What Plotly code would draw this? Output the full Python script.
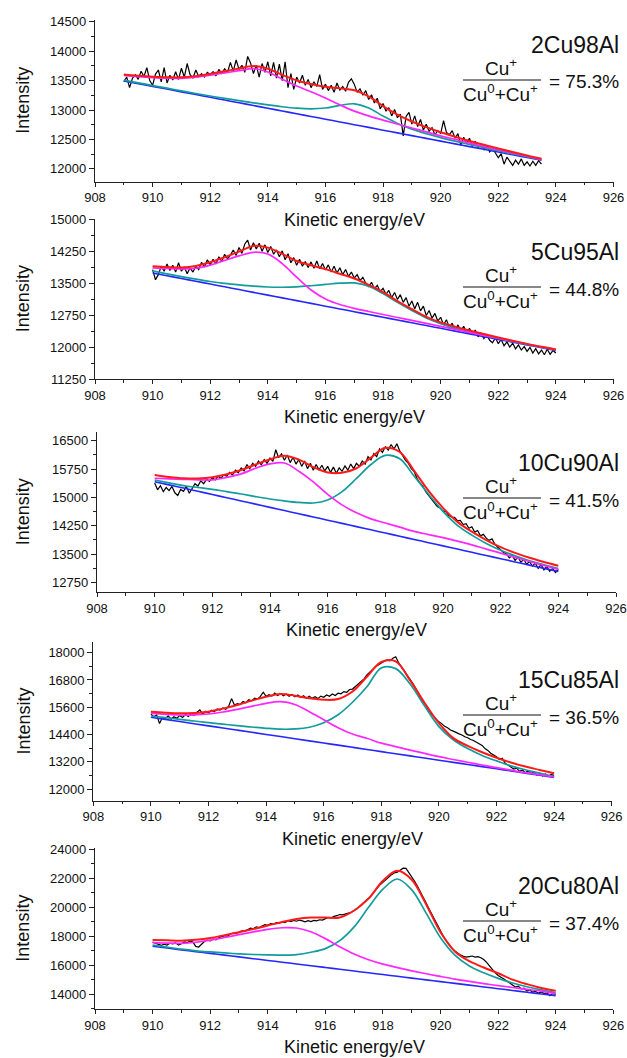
import numpy as np
import plotly.graph_objects as go

# ---------------- text ----------------
samples = ["2Cu98Al", "5Cu95Al", "10Cu90Al", "15Cu85Al", "20Cu80Al"]
ratios = ["75.3%", "44.8%", "41.5%", "36.5%", "37.4%"]
x_title = "Kinetic energy/eV"
y_title = "Intensity"
x_ticks = [908, 910, 912, 914, 916, 918, 920, 922, 924, 926]
p1_yticks = [12000, 12500, 13000, 13500, 14000, 14500]
p2_yticks = [11250, 12000, 12750, 13500, 14250, 15000]
p3_yticks = [12750, 13500, 14250, 15000, 15750, 16500]
p4_yticks = [12000, 13200, 14400, 15600, 16800, 18000]
p5_yticks = [14000, 16000, 18000, 20000, 22000, 24000]

# ---------------- panel 1 : 2Cu98Al ----------------
p1_data_start = 909.0
p1_data = [
    13480, 13560, 13380, 13540, 13600, 13520, 13660, 13570, 13720, 13500,
    13420, 13610, 13680, 13480, 13720, 13460, 13590, 13510, 13650, 13520,
    13710, 13560, 13790, 13600, 13540, 13680, 13570, 13620, 13560, 13640,
    13600, 13650, 13580, 13690, 13620, 13700, 13640, 13810, 13660, 13850,
    13690, 13760, 13640, 13910, 13800, 13620, 13760, 13560, 13790, 13640,
    13820, 13580, 13810, 13540, 13780, 13500, 13820, 13380, 13620, 13350,
    13560, 13460, 13590, 13420, 13520, 13380, 13480, 13400, 13600, 13350,
    13440, 13330, 13420, 13300, 13460, 13340, 13400, 13320, 13470, 13530,
    13440, 13300, 13360, 13250, 13330, 13180, 13260, 13120, 13200, 13020,
    13110, 12980, 13040, 12900, 13010, 12870, 12930, 12560, 12890, 12960,
    12760, 12900, 12720, 12840, 12660, 12760, 12640, 12700, 12580, 12650,
    12600, 12820, 12620, 12580, 12650, 12520, 12600, 12400, 12540, 12430,
    12520, 12380, 12470, 12360, 12420, 12320, 12400, 12290, 12350, 12260,
    12190, 12260, 12080, 12200, 12120, 12060, 12150, 12080, 12170, 12060,
    12120, 12050, 12130, 12060, 12140, 12080]
p1_fit_start = 909.0
p1_bg = [13495, 13449, 13402, 13356, 13309, 13263, 13216, 13170, 13123, 13077,
         13030, 12984, 12937, 12891, 12844, 12798, 12751, 12705, 12658, 12612,
         12565, 12519, 12472, 12426, 12379, 12333, 12286, 12240, 12193, 12147]
p1_cu0 = [13507, 13462, 13416, 13371, 13325, 13281, 13238, 13198, 13159, 13122,
          13087, 13056, 13032, 13021, 13034, 13078, 13106, 13035, 12898, 12772,
          12675, 12599, 12532, 12471, 12414, 12361, 12308, 12257, 12206, 12157]
p1_cup = [13590, 13569, 13552, 13541, 13539, 13558, 13591, 13630, 13668, 13702,
          13645, 13524, 13407, 13311, 13204, 13088, 12981, 12900, 12828, 12762,
          12695, 12629, 12562, 12501, 12439, 12383, 12326, 12270, 12215, 12162]
p1_env = [13602, 13582, 13566, 13556, 13555, 13576, 13613, 13658, 13704, 13747,
          13702, 13596, 13502, 13441, 13394, 13368, 13336, 13230, 13068, 12922,
          12805, 12709, 12622, 12546, 12474, 12411, 12348, 12287, 12228, 12172]

# ---------------- panel 2 : 5Cu95Al ----------------
p2_data_start = 910.0
p2_data = [
    13820, 13580, 13700, 13900, 13780, 13950, 13800, 13920, 13760, 13980,
    13780, 13880, 13720, 13860, 13760, 13900, 13820, 13990, 13880, 14050,
    13930, 14060, 13950, 14120, 14010, 14180, 14070, 14160, 14280, 14150,
    14340, 14200, 14420, 14510, 14280, 14450, 14300, 14440, 14250, 14400,
    14220, 14360, 14180, 14280, 14120, 14260, 14050, 14190, 13980, 14100,
    13920, 14060, 13900, 14010, 13870, 14000, 13850, 14020, 13840, 13960,
    13810, 13930, 13760, 13900, 13740, 13860, 13700, 13820, 13660, 13760,
    13620, 13700, 13560, 13640, 13500, 13420, 13520, 13370, 13450, 13300,
    13380, 13240, 13330, 13160, 13280, 13120, 13230, 13050, 13160, 12960,
    13080, 12900, 13050, 12850, 12960, 12740, 12860, 12680, 12790, 12610,
    12700, 12520, 12640, 12460, 12560, 12400, 12520, 12380, 12490, 12330,
    12440, 12290, 12400, 12240, 12330, 12200, 12290, 12160, 12100, 12220,
    12080, 12180, 12030, 12120, 12000, 12090, 11960, 12050, 11930, 12010,
    11900, 11990, 11860, 11960, 11840, 11930, 11820, 11950, 11830, 11920,
    11860]
p2_fit_start = 910.0
p2_bg = [13740, 13675, 13610, 13545, 13480, 13415, 13350, 13285, 13220, 13155,
         13090, 13025, 12960, 12895, 12830, 12765, 12700, 12635, 12570, 12505,
         12440, 12375, 12310, 12245, 12180, 12115, 12050, 11985, 11920]
p2_cu0 = [13790, 13720, 13655, 13595, 13540, 13495, 13460, 13430, 13410, 13405,
          13415, 13440, 13470, 13500, 13505, 13430, 13255, 13050, 12860, 12685,
          12550, 12440, 12355, 12275, 12200, 12130, 12060, 11995, 11930]
p2_cup = [13860, 13845, 13835, 13850, 13925, 14035, 14140, 14225, 14185, 13960,
          13640, 13340, 13130, 13000, 12910, 12835, 12765, 12695, 12625, 12555,
          12485, 12415, 12345, 12275, 12208, 12140, 12072, 12005, 11938]
p2_env = [13900, 13880, 13870, 13905, 13990, 14110, 14240, 14375, 14335, 14190,
          14020, 13920, 13830, 13720, 13610, 13460, 13290, 13080, 12890, 12710,
          12580, 12480, 12390, 12305, 12225, 12150, 12075, 12005, 11945]

# ---------------- panel 3 : 10Cu90Al ----------------
p3_data_start = 910.0
p3_data = [
    15380, 15200, 15310, 15150, 15260, 15180, 15290, 15120, 15050, 15210,
    15160, 15290, 15110, 15250, 15360, 15300, 15440, 15360, 15480, 15420,
    15520, 15460, 15560, 15500, 15600, 15560, 15660, 15590, 15720, 15650,
    15780, 15700, 15870, 15760, 15900, 15820, 15960, 15860, 16000, 15900,
    16040, 15950, 16260, 16050, 16150, 15980, 16120, 15920, 16060, 15880,
    16000, 15820, 15960, 15760, 15900, 15720, 15870, 15730, 15850, 15700,
    15820, 15660, 15800, 15640, 15780, 15690, 15830, 15720, 15880, 15760,
    15900, 15820, 15960, 15880, 16080, 15990, 16160, 16080, 16280, 16190,
    16340, 16250, 16400, 16280, 16420, 16230, 16100, 15980, 15900, 15760,
    15680, 15500, 15380, 15300, 15150, 15060, 14940, 14880, 14760, 14720,
    14640, 14620, 14520, 14480, 14470, 14380, 14390, 14280, 14300, 14180,
    14220, 14080, 14120, 13980, 14020, 13920, 13860, 13900, 13760, 13680,
    13600, 13540, 13500, 13400, 13460, 13330, 13420, 13280, 13360, 13230,
    13300, 13180, 13260, 13120, 13220, 13080, 13170, 13040, 13120, 13010,
    13090]
p3_fit_start = 910.0
p3_bg = [15415, 15330, 15245, 15160, 15075, 14990, 14905, 14820, 14735, 14650,
         14565, 14480, 14395, 14310, 14225, 14140, 14055, 13970, 13885, 13800,
         13715, 13630, 13545, 13460, 13375, 13290, 13205, 13120, 13035]
p3_cu0 = [15460, 15385, 15310, 15260, 15213, 15150, 15089, 15020, 14956, 14905,
          14865, 14850, 14930, 15150, 15500, 15870, 16110, 16020, 15560, 15080,
          14630, 14260, 14000, 13780, 13600, 13450, 13320, 13215, 13115]
p3_cup = [15505, 15490, 15478, 15465, 15460, 15530, 15620, 15770, 15885, 15910,
          15690, 15410, 15080, 14800, 14590, 14430, 14320, 14210, 14100, 14015,
          13935, 13840, 13740, 13630, 13525, 13410, 13300, 13195, 13090]
p3_env = [15592, 15540, 15505, 15500, 15530, 15610, 15725, 15870, 16007, 16100,
          16000, 15800, 15660, 15650, 15770, 16050, 16310, 16200, 15700, 15170,
          14720, 14350, 14090, 13870, 13680, 13530, 13400, 13290, 13190]

# ---------------- panel 4 : 15Cu85Al ----------------
p4_data_start = 910.0
p4_data = [
    15300, 15180, 15260, 14880, 15150, 15100, 15220, 15080, 15180, 15110,
    15240, 15150, 15280, 15190, 15320, 15240, 15380, 15480, 15300, 15420,
    15360, 15470, 15400, 15530, 15480, 15570, 15510, 15650, 15980, 15700,
    15760, 15720, 15850, 15800, 15930, 15880, 16000, 15960, 16080, 16260,
    16080, 16150, 16090, 16220, 16120, 16200, 16100, 16180, 16080, 16160,
    16060, 16140, 16030, 16110, 16000, 16080, 15990, 16060, 15980, 16090,
    16040, 16140, 16080, 16180, 16120, 16220, 16190, 16290, 16260, 16380,
    16400, 16520, 16600, 16760, 16850, 17020, 17120, 17260, 17380, 17460,
    17560, 17620, 17680, 17640, 17760, 17820, 17560, 17380, 17200, 17040,
    16860, 16640, 16420, 16160, 15960, 15780, 15560, 15380, 15220, 15080,
    14960, 14880, 14760, 14700, 14600, 14550, 14480, 14430, 14380, 14300,
    14260, 14180, 14140, 14060, 13980, 13920, 13780, 13700, 13580, 13500,
    13420, 13300, 13360, 13140, 13060, 12980, 12880, 12920, 12780, 12840,
    12720, 12800, 12680, 12760, 12620, 12700, 12580, 12660, 12560, 12640,
    12600]
p4_fit_start = 910.0
p4_bg = [15160, 15066, 14971, 14877, 14782, 14688, 14593, 14499, 14404, 14310,
         14215, 14121, 14026, 13932, 13837, 13743, 13648, 13554, 13459, 13365,
         13270, 13176, 13081, 12987, 12892, 12798, 12703, 12609, 12514]
p4_cu0 = [15215, 15140, 15070, 14995, 14920, 14855, 14788, 14730, 14674, 14635,
          14645, 14720, 14920, 15270, 15820, 16500, 17330, 17300, 16620, 15660,
          14750, 14170, 13780, 13480, 13240, 13020, 12850, 12700, 12545]
p4_cup = [15333, 15290, 15259, 15265, 15303, 15390, 15509, 15640, 15774, 15845,
          15720, 15400, 15050, 14700, 14420, 14234, 14020, 13870, 13715, 13570,
          13424, 13300, 13180, 13060, 12940, 12830, 12720, 12630, 12535]
p4_env = [15404, 15360, 15333, 15350, 15404, 15540, 15699, 15890, 16064, 16183,
          16108, 15993, 15930, 15960, 16290, 16944, 17590, 17620, 16780, 15800,
          14900, 14240, 13900, 13620, 13380, 13170, 12990, 12840, 12693]

# ---------------- panel 5 : 20Cu80Al ----------------
p5_data_start = 910.0
p5_data = [
    17600, 17520, 17450, 17380, 17450, 17400, 17520, 17480, 17550, 17400,
    17480, 17620, 17560, 17680, 17600, 17300, 17260, 17440, 17640, 17740,
    17680, 17820, 17760, 17900, 17980, 18050, 18000, 18160, 18220, 18180,
    18300, 18380, 18340, 18480, 18560, 18520, 18650, 18600, 18720, 18800,
    18760, 18880, 18840, 18950, 18900, 19000, 18950, 19080, 19020, 19100,
    19040, 19120, 19060, 19000, 19080, 19020, 19100, 19060, 19140, 19120,
    19220, 19300, 19260, 19380, 19420, 19500, 19480, 19560, 19600, 19660,
    19780, 19900, 20100, 20260, 20400, 20620, 20820, 21080, 21300, 21560,
    21720, 21900, 22100, 22250, 22380, 22420, 22560, 22700, 22680, 22400,
    22100, 21800, 21450, 21100, 20700, 20300, 19900, 19500, 19100, 18700,
    18350, 18000, 17700, 17400, 17180, 16980, 16820, 16700, 16620, 16560,
    16600, 16640, 16560, 16600, 16520, 16400, 16200, 15950, 15700, 15480,
    15300, 15150, 15050, 14920, 14800, 14650, 14500, 14560, 14380, 14420,
    14220, 14300, 14150, 14200, 14080, 14160, 14050, 14100, 13900, 14050,
    14000]
p5_fit_start = 910.0
p5_bg = [17310, 17188, 17066, 16945, 16823, 16701, 16579, 16457, 16336, 16214,
         16092, 15970, 15848, 15727, 15605, 15483, 15361, 15239, 15118, 14996,
         14874, 14752, 14630, 14509, 14387, 14265, 14143, 14021, 13900]
p5_cu0 = [17400, 17250, 17110, 17000, 16920, 16850, 16790, 16745, 16715, 16705,
          16740, 16900, 17150, 17700, 18650, 20000, 21250, 21950, 21200, 19600,
          17900, 16700, 15950, 15480, 15100, 14780, 14520, 14300, 14110]
p5_cup = [17560, 17530, 17518, 17590, 17730, 17920, 18110, 18300, 18480, 18590,
          18570, 18310, 17840, 17280, 16780, 16380, 16080, 15840, 15620, 15420,
          15230, 15050, 14890, 14740, 14600, 14470, 14340, 14220, 14050]
p5_env = [17745, 17720, 17700, 17760, 17880, 18080, 18280, 18500, 18740, 18990,
          19200, 19300, 19290, 19300, 19780, 20600, 21830, 22520, 21900, 20200,
          18280, 16950, 16280, 15850, 15450, 15010, 14700, 14440, 14250]

DATA_STEP = 0.1   # eV between measured points
FIT_STEP = 0.5    # eV between fit-curve samples

panels = [
    dict(start=p1_data_start, data=p1_data, fstart=p1_fit_start, bg=p1_bg, cu0=p1_cu0, cup=p1_cup, env=p1_env, yticks=p1_yticks),
    dict(start=p2_data_start, data=p2_data, fstart=p2_fit_start, bg=p2_bg, cu0=p2_cu0, cup=p2_cup, env=p2_env, yticks=p2_yticks),
    dict(start=p3_data_start, data=p3_data, fstart=p3_fit_start, bg=p3_bg, cu0=p3_cu0, cup=p3_cup, env=p3_env, yticks=p3_yticks),
    dict(start=p4_data_start, data=p4_data, fstart=p4_fit_start, bg=p4_bg, cu0=p4_cu0, cup=p4_cup, env=p4_env, yticks=p4_yticks),
    dict(start=p5_data_start, data=p5_data, fstart=p5_fit_start, bg=p5_bg, cu0=p5_cu0, cup=p5_cup, env=p5_env, yticks=p5_yticks),
]

# ---------------- layout (pixel geometry of the 627 x 1058 page) ----------------
W, H = 627, 1058
geom = [
    dict(top=20.0, bottom=181.7, left=95.0, right=613.5, yrange=(11783, 14529), name_py=45),
    dict(top=219.3, bottom=379.0, left=95.0, right=613.5, yrange=(11250, 15000), name_py=252),
    dict(top=432.3, bottom=592.3, left=97.0, right=616.0, yrange=(12486, 16722), name_py=463),
    dict(top=642.3, bottom=800.7, left=93.3, right=611.7, yrange=(11488, 18458), name_py=680),
    dict(top=848.3, bottom=1009.0, left=95.0, right=613.3, yrange=(12986, 24069), name_py=886),
]

FONT = "Arial, Liberation Sans, sans-serif"
AX = "#222222"
TXT = "#111111"
C_DATA, C_ENV, C_CUP, C_CU0, C_BG = "#000000", "#FF1A1A", "#FF26FF", "#129C9C", "#2626FF"

def px_x(p):
    return p / W

def px_y(p):
    return 1 - p / H

fig = go.Figure()
annotations = []
shapes = []

for i, (pn, g) in enumerate(zip(panels, geom)):
    k = "" if i == 0 else str(i + 1)
    xa, ya = "x" + k, "y" + k
    xd = np.round(pn["start"] + DATA_STEP * np.arange(len(pn["data"])), 2)
    xf = np.round(pn["fstart"] + FIT_STEP * np.arange(len(pn["env"])), 2)

    fig.add_trace(go.Scatter(x=xd, y=pn["data"], mode="lines", line=dict(color=C_DATA, width=1.2),
                             xaxis=xa, yaxis=ya, showlegend=False, hoverinfo="skip"))
    for series, col, w in [(pn["bg"], C_BG, 1.6), (pn["cu0"], C_CU0, 1.7),
                           (pn["cup"], C_CUP, 1.7), (pn["env"], C_ENV, 2.0)]:
        fig.add_trace(go.Scatter(x=xf, y=series, mode="lines",
                                 line=dict(color=col, width=w, shape="spline", smoothing=1.0),
                                 xaxis=xa, yaxis=ya, showlegend=False, hoverinfo="skip"))

    yt = pn["yticks"]
    ystep = yt[1] - yt[0]
    fig.layout["xaxis" + k] = dict(
        domain=[px_x(g["left"]), px_x(g["right"])], anchor=ya, range=[908, 926],
        tickmode="array", tickvals=x_ticks, ticktext=[str(t) for t in x_ticks],
        ticks="outside", ticklen=4, tickwidth=1.2, tickcolor=AX,
        minor=dict(dtick=1, tick0=908, ticks="outside", ticklen=2.5, tickwidth=1.1, tickcolor=AX),
        showline=True, linecolor=AX, linewidth=1.3, showgrid=False, zeroline=False,
        automargin=False,
        tickfont=dict(family=FONT, size=13, color=TXT), fixedrange=True)
    fig.layout["yaxis" + k] = dict(
        domain=[px_y(g["bottom"]), px_y(g["top"])], anchor=xa, range=list(g["yrange"]),
        tickmode="array", tickvals=yt, ticktext=[str(t) for t in yt],
        ticks="outside", ticklen=5, tickwidth=1.2, tickcolor=AX,
        minor=dict(dtick=ystep / 2, tick0=yt[0], ticks="outside", ticklen=3, tickwidth=1.1, tickcolor=AX),
        showline=True, linecolor=AX, linewidth=1.3, showgrid=False, zeroline=False,
        automargin=False,
        tickfont=dict(family=FONT, size=13, color=TXT), fixedrange=True)

    # axis titles
    annotations.append(dict(text=y_title, x=px_x(23), y=px_y((g["top"] + g["bottom"]) / 2),
                            xref="paper", yref="paper", textangle=-90, showarrow=False,
                            xanchor="center", yanchor="middle", font=dict(family=FONT, size=18, color=TXT)))
    annotations.append(dict(text=x_title, x=px_x((g["left"] + g["right"]) / 2), y=px_y(g["bottom"] + 38),
                            xref="paper", yref="paper", showarrow=False,
                            xanchor="center", yanchor="middle", font=dict(family=FONT, size=18, color=TXT)))
    # sample label and Cu+ ratio
    ny = g["name_py"]
    annotations.append(dict(text=samples[i], x=px_x(621), y=px_y(ny), xref="paper", yref="paper",
                            showarrow=False, xanchor="right", yanchor="middle",
                            font=dict(family=FONT, size=23, color=TXT)))
    annotations.append(dict(text="Cu<sup>+</sup>", x=px_x(501), y=px_y(ny + 22), xref="paper", yref="paper",
                            showarrow=False, xanchor="center", yanchor="middle",
                            font=dict(family=FONT, size=19, color=TXT)))
    annotations.append(dict(text="Cu<sup>0</sup>+Cu<sup>+</sup>", x=px_x(501), y=px_y(ny + 48), xref="paper", yref="paper",
                            showarrow=False, xanchor="center", yanchor="middle",
                            font=dict(family=FONT, size=19, color=TXT)))
    annotations.append(dict(text="= " + ratios[i], x=px_x(621), y=px_y(ny + 37), xref="paper", yref="paper",
                            showarrow=False, xanchor="right", yanchor="middle",
                            font=dict(family=FONT, size=19, color=TXT)))
    shapes.append(dict(type="line", xref="paper", yref="paper", x0=px_x(463), x1=px_x(541),
                       y0=px_y(ny + 35), y1=px_y(ny + 35), line=dict(color=TXT, width=1.2)))

fig.update_layout(width=W, height=H, margin=dict(l=0, r=0, t=0, b=0, autoexpand=False),
                  paper_bgcolor="white", plot_bgcolor="white",
                  annotations=annotations, shapes=shapes, showlegend=False,
                  font=dict(family=FONT))

fig.write_html("out.html", config={"displayModeBar": False},
               post_script="document.body.style.margin='0';document.body.style.padding='0';"
                           "document.body.style.overflow='hidden';")
